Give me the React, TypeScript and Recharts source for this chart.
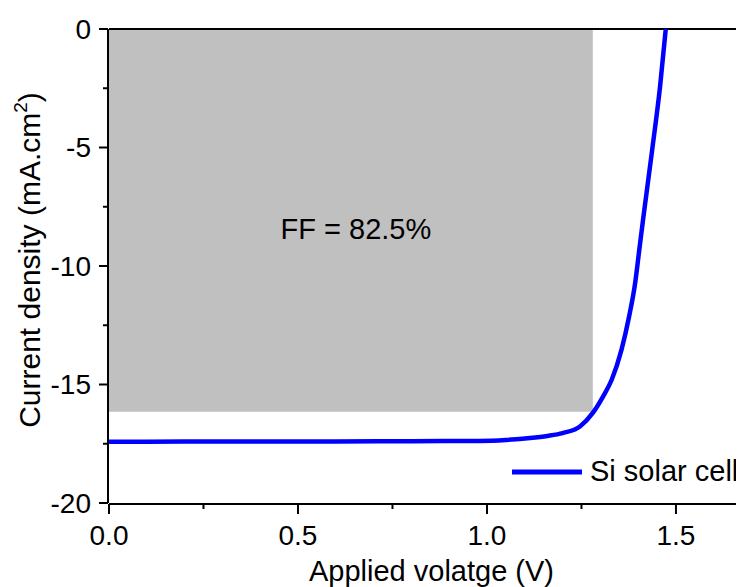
import React from "react";
import { LineChart, Line, XAxis, YAxis, ReferenceArea, ReferenceLine, Label, Legend } from "recharts";

// J-V curve
const voltage = [0, 0.2, 0.4, 0.6, 0.8, 0.98, 1.05, 1.114, 1.16, 1.2, 1.246, 1.28, 1.307, 1.33, 1.356, 1.376, 1.392, 1.403, 1.413, 1.436, 1.458, 1.473];
const current = [-17.42, -17.41, -17.4, -17.4, -17.39, -17.38, -17.34, -17.26, -17.17, -17.05, -16.77, -16.2, -15.51, -14.8, -13.53, -12.13, -10.72, -9.31, -8.04, -5.23, -2.42, 0];

const xTicks = [0, 0.5, 1.0, 1.5];
const xMinorTicks = [0.25, 0.75, 1.25];
const yTicks = [0, -5, -10, -15, -20];
const yMinorTicks = [-2.5, -7.5, -12.5, -17.5];

// max-power rectangle
const ffVoltage = 1.28;
const ffCurrent = -16.15;
const ffLabel = "FF = 82.5%";

const seriesName = "Si solar cell";
const xTitle = "Applied volatge (V)";

const FONT = "'Liberation Sans', Arial, sans-serif";
const BLUE = "#0000ff";
const X_DOMAIN: [number, number] = [0, 1.68];
const Y_DOMAIN: [number, number] = [-20, 0];

const data = voltage.map((v, i) => ({ v, j: current[i] }));

function YTitle(props: any) {
  const { viewBox } = props;
  const cx = 32;
  const cy = viewBox.y + viewBox.height / 2 - 6;
  return (
    <text x={cx} y={cy} transform={`rotate(-90 ${cx} ${cy})`} textAnchor="middle" fontSize={30} fill="#000" fontFamily={FONT}>
      Current density (mA.cm<tspan dy={-13} fontSize={19}>2</tspan>
      <tspan dy={13}>)</tspan>
    </text>
  );
}

function LegendContent() {
  return (
    <div style={{ display: "flex", alignItems: "center", fontSize: 29, fontFamily: FONT, color: "#000", whiteSpace: "nowrap" }}>
      <svg width={70} height={8}>
        <line x1={0} y1={4} x2={70} y2={4} stroke={BLUE} strokeWidth={5} />
      </svg>
      <span style={{ marginLeft: 8 }}>{seriesName}</span>
    </div>
  );
}

export default function App() {
  return (
    <div style={{ width: 736, height: 579, background: "#fff" }}>
      <LineChart
        width={736}
        height={579}
        data={data}
        margin={{ top: 21, right: 0, bottom: 0, left: 0 }}
        style={{ fontFamily: FONT }}
      >
        {/* minor ticks sit on the default axes (id 0) so they hug the plot */}
        <XAxis
          dataKey="v"
          type="number"
          domain={X_DOMAIN}
          ticks={xMinorTicks}
          tickFormatter={() => ""}
          height={1}
          axisLine={false}
          tickSize={6}
          tickLine={{ stroke: "#000", strokeWidth: 2 }}
          allowDataOverflow
        />
        <XAxis
          xAxisId="main"
          dataKey="v"
          type="number"
          domain={X_DOMAIN}
          ticks={xTicks}
          tickFormatter={(v: number) => v.toFixed(1)}
          height={83}
          tickSize={10}
          tickMargin={11}
          tick={{ fontSize: 28, fill: "#000" }}
          axisLine={{ stroke: "#000", strokeWidth: 2 }}
          tickLine={{ stroke: "#000", strokeWidth: 2 }}
          allowDataOverflow
        >
          <Label value={xTitle} position="insideBottom" offset={6} dx={5} fontSize={29} fill="#000" />
        </XAxis>
        <YAxis
          type="number"
          domain={Y_DOMAIN}
          ticks={yMinorTicks}
          tickFormatter={() => ""}
          width={1}
          axisLine={false}
          tickSize={6}
          tickLine={{ stroke: "#000", strokeWidth: 2 }}
          allowDataOverflow
        />
        <YAxis
          yAxisId="main"
          type="number"
          domain={Y_DOMAIN}
          ticks={yTicks}
          width={100}
          tickSize={9}
          tickMargin={8}
          tick={{ fontSize: 28, fill: "#000" }}
          axisLine={{ stroke: "#000", strokeWidth: 2 }}
          tickLine={{ stroke: "#000", strokeWidth: 2 }}
          allowDataOverflow
        >
          <Label content={<YTitle />} />
        </YAxis>
        <ReferenceArea xAxisId="main" yAxisId="main" x1={0} x2={ffVoltage} y1={ffCurrent} y2={0} fill="#c0c0c0" fillOpacity={1} stroke="none">
          <Label value={ffLabel} position="center" dx={5} dy={8} fontSize={29} fill="#000" />
        </ReferenceArea>
        <ReferenceLine xAxisId="main" yAxisId="main" y={0} stroke="#000" strokeWidth={2} />
        <Legend
          layout="vertical"
          align="center"
          verticalAlign="middle"
          content={<LegendContent />}
          wrapperStyle={{ left: 504, top: 447, width: "auto" }}
        />
        <Line
          xAxisId="main"
          yAxisId="main"
          type="monotone"
          dataKey="j"
          name={seriesName}
          stroke={BLUE}
          strokeWidth={4.5}
          dot={false}
          isAnimationActive={false}
        />
      </LineChart>
    </div>
  );
}
